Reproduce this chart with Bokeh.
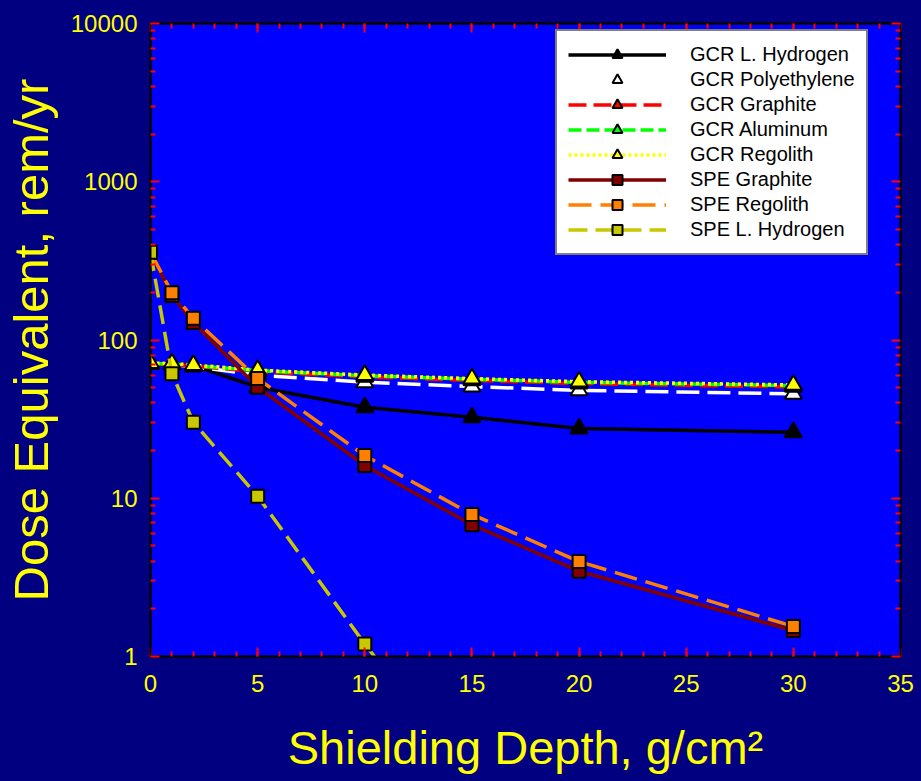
from bokeh.plotting import figure
from bokeh.models import (Range1d, LinearAxis, LogAxis, SingleIntervalTicker,
                          FixedTicker, PrintfTickFormatter, CustomLabelingPolicy)
from bokeh.embed import file_html
from bokeh.resources import INLINE

# ---- data ----
depth = [0, 1, 2, 5, 10, 15, 20, 30]
depth_spe_lh = [0, 1, 2, 5, 10, 15]

gcr_lh = [71.3, 70.5, 69.0, 50.3, 37.6, 32.5, 27.6, 26.1]
gcr_poly = [71.0, 70.0, 68.0, 60.0, 54.1, 50.8, 48.0, 45.7]
gcr_graphite = [70.5, 70.0, 68.5, 63.0, 58.5, 55.5, 53.0, 50.5]
gcr_aluminum = [71.0, 70.5, 69.0, 64.0, 59.5, 56.5, 54.0, 51.5]
gcr_regolith = [71.5, 71.0, 69.5, 64.5, 60.0, 57.0, 54.5, 52.0]
spe_graphite = [359, 191, 129, 50.3, 16.1, 6.8, 3.46, 1.46]
spe_regolith = [359, 199, 137, 57.1, 18.6, 7.9, 3.98, 1.55]
spe_lh = [359, 61.2, 30.2, 10.3, 1.2, 0.16]

y_major = [1, 10, 100, 1000, 10000]
y_minor = [m * d for d in y_major[:-1] for m in range(2, 10)]

x_title = "Shielding Depth, g/cm\u00b2"
y_title = "Dose Equivalent, rem/yr"

NAVY = "#000080"
BLUE = "#0000ff"
YELLOW = "#ffff00"
TICK = "#ff0000"
FONT = "Liberation Sans"

p = figure(width=921, height=781, y_axis_type="log",
           x_range=Range1d(0, 35), y_range=Range1d(1, 10000),
           output_backend="svg", toolbar_location=None,
           min_border_left=150, min_border_right=21,
           min_border_top=23, min_border_bottom=125,
           background_fill_color=BLUE, border_fill_color=NAVY,
           outline_line_color="black", outline_line_width=2)
p.grid.visible = False

xticker = SingleIntervalTicker(interval=5, num_minor_ticks=5)
yticker = FixedTicker(ticks=y_major, minor_ticks=y_minor)
hide_labels = CustomLabelingPolicy(code="""
    for (const i of Array.from(indices)) { indices.unset(i) }
    return indices
""")


def style_axis(ax, show_labels=True):
    ax.major_tick_in = 9
    ax.major_tick_out = 0
    ax.minor_tick_in = 5
    ax.minor_tick_out = 0
    ax.major_tick_line_color = TICK
    ax.minor_tick_line_color = TICK
    ax.major_tick_line_width = 2
    ax.minor_tick_line_width = 2
    ax.axis_line_color = "black"
    ax.axis_line_width = 2
    if show_labels:
        ax.major_label_text_color = YELLOW
        ax.major_label_text_font = FONT
        ax.major_label_text_font_size = "24px"
        ax.axis_label_text_color = YELLOW
        ax.axis_label_text_font = FONT
        ax.axis_label_text_font_style = "normal"
    else:
        ax.major_label_policy = hide_labels
        ax.major_label_standoff = 0


xa = p.xaxis[0]
xa.ticker = xticker
style_axis(xa)
xa.major_label_standoff = 18
xa.axis_label = x_title
xa.axis_label_text_font_size = "47px"
xa.axis_label_standoff = 26

ya = p.yaxis[0]
ya.ticker = yticker
ya.formatter = PrintfTickFormatter(format="%d")
style_axis(ya)
ya.major_label_standoff = 13
ya.axis_label = y_title
ya.axis_label_text_font_size = "49px"
ya.axis_label_standoff = 10

top = LinearAxis(ticker=xticker)
style_axis(top, False)
p.add_layout(top, "above")
right = LogAxis(ticker=yticker)
style_axis(right, False)
p.add_layout(right, "right")

# ---- series ----
def series(x, y, label, color, dash, marker, fill, size):
    p.line(x, y, line_color=color, line_width=3.5, line_dash=dash, legend_label=label)
    p.scatter(x, y, marker=marker, size=size, fill_color=fill,
              line_color="black", line_width=2, legend_label=label)

series(depth, gcr_lh, "GCR L. Hydrogen", "black", "solid", "triangle", "black", 17)
series(depth, gcr_poly, "GCR Polyethylene", "white", "23 8", "triangle", "white", 17)
series(depth, gcr_graphite, "GCR Graphite", "#ff0000", "18 7", "triangle", "#ff0000", 17)
series(depth, gcr_aluminum, "GCR Aluminum", "#00ff00", "13 5", "triangle", "#00ff00", 17)
series(depth, gcr_regolith, "GCR Regolith", "#ffff00", "3 3", "triangle", "#ffff00", 17)
series(depth, spe_graphite, "SPE Graphite", "#800000", "solid", "square", "#800000", 13)
series(depth, spe_regolith, "SPE Regolith", "#ff8000", "23 9", "square", "#ff8000", 13)
series(depth_spe_lh, spe_lh, "SPE L. Hydrogen", "#c8c800", "19 8", "square", "#c8c800", 13)

lg = p.legend[0]
lg.location = (405, 401)
lg.margin = 0
lg.padding = 11
lg.spacing = 0
lg.glyph_width = 98
lg.glyph_height = 25
lg.label_height = 20
lg.label_standoff = 24
lg.label_text_font = FONT
lg.label_text_font_size = "20px"
lg.label_text_color = "black"
lg.border_line_color = "black"
lg.border_line_width = 2
lg.background_fill_color = "white"
lg.background_fill_alpha = 1.0

html = file_html(p, INLINE, title="Dose Equivalent vs Shielding Depth")
html = html.replace("</head>", "<style>body{background:#000080;}</style></head>", 1)
open("out.html", "w").write(html)
